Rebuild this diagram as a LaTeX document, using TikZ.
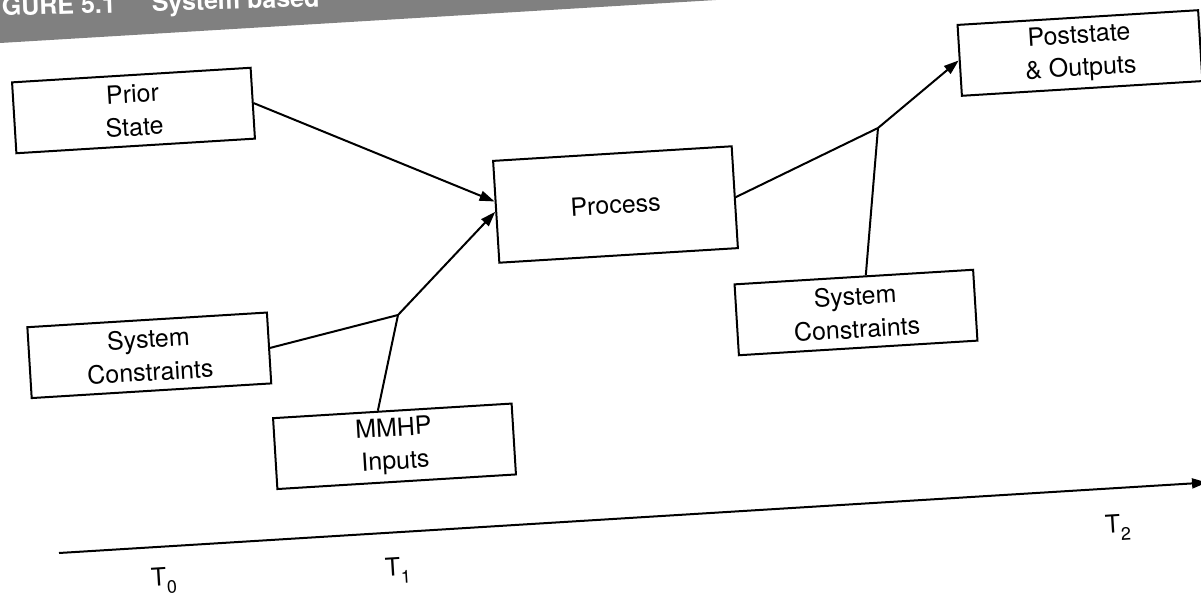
\documentclass[tikz,border=0pt]{standalone}
\usepackage{fontspec}
\setmainfont{TeX Gyre Heros}
\usetikzlibrary{arrows.meta,calc}
\begin{document}
\begin{tikzpicture}[x=1pt,y=-1pt,
  box/.style={draw, line width=2pt, rotate=3.5, minimum width=239pt, minimum height=71pt,
              align=center, font=\fontsize{25}{33}\selectfont, inner sep=0pt},
  conn/.style={line width=2pt},
  arr/.style={conn, -{Triangle[length=15pt,width=10pt]}},
  tlabel/.style={rotate=3.5, font=\fontsize{25}{30}\selectfont, inner sep=0pt},
  head/.style={rotate=1.7, anchor=base west, text=white, inner sep=0pt,
               font=\fontsize{25}{25}\selectfont\bfseries},
]
\useasboundingbox (0,0) rectangle (1201,602);
\clip (0,0) rectangle (1201,602);
% header band
\fill[black!50] (0,0) -- (716,0) -- (0,43) -- cycle;
\node[head] (hd) at (2,16) {GURE 5.1\hspace{36pt}System based};
% boxes
\node[box] (prior) at (133.5,110.5) {Prior\\State};
\node[box, minimum height=102pt] (proc) at (615.5,204.5) {Process};
\node[box, minimum width=241pt] (post) at (1080,53) {Poststate\\\& Outputs};
\node[box, minimum width=240pt] (scl) at (149.3,355.3) {System\\Constraints};
\node[box] (mmhp) at (394.5,446.3) {MMHP\\Inputs};
\node[box] (scr) at (856,312.5) {System\\Constraints};
% junctions
\coordinate (j1) at (398,315);
\coordinate (j2) at (878,128);
% connectors
\draw[arr] (prior.east) -- ($(proc.west)!0.2!(proc.north west)$);
\draw[conn] (scl.east) -- (j1);
\draw[conn] ($(mmhp.north west)!0.44!(mmhp.north east)$) -- (j1);
\draw[arr] (j1) -- (proc.west);
\draw[conn] (proc.east) -- (j2);
\draw[conn] ($(scr.north west)!0.55!(scr.north east)$) -- (j2);
\draw[arr] (j2) -- (post.west);
% time axis
\coordinate (ax0) at (59,553);
\coordinate (ax1) at (1207,482.5);
\draw[arr] (ax0) -- (ax1);
\node[tlabel] (t0) at (164,581) {T\raisebox{-8pt}{\fontsize{18}{18}\selectfont 0}};
\node[tlabel] (t1) at (398,571) {T\raisebox{-8pt}{\fontsize{18}{18}\selectfont 1}};
\node[tlabel] (t2) at (1118,528) {T\raisebox{-8pt}{\fontsize{18}{18}\selectfont 2}};
\end{tikzpicture}
\end{document}
